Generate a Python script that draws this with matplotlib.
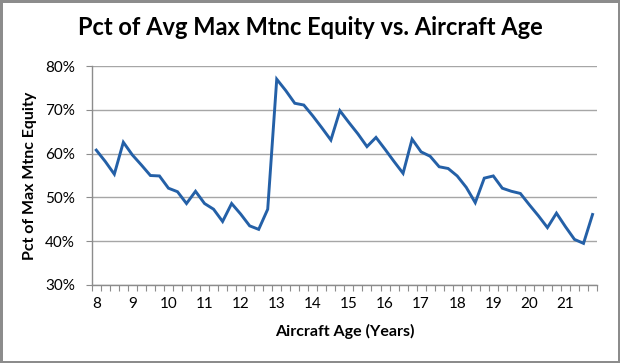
import numpy as np
import matplotlib.pyplot as plt
from matplotlib.ticker import FuncFormatter

# quarterly ages 8.00 .. 21.75
age_labels = ['8', '9', '10', '11', '12', '13', '14', '15', '16', '17', '18', '19', '20', '21']
pct_equity = [
    60.8, 58.2, 55.3, 62.6, 59.7, 57.4, 55.0, 54.9, 52.1, 51.3,
    48.6, 51.4, 48.6, 47.3, 44.5, 48.6, 46.2, 43.5, 42.7, 47.3,
    77.0, 74.4, 71.5, 71.1, 68.6, 65.9, 63.1, 69.8, 67.1, 64.5,
    61.6, 63.7, 61.0, 58.2, 55.5, 63.3, 60.4, 59.4, 57.0, 56.6,
    54.9, 52.3, 48.8, 54.4, 54.9, 52.1, 51.4, 50.9, 48.3, 45.8,
    43.1, 46.4, 43.3, 40.4, 39.5, 46.1,
]

plt.rcParams['font.family'] = ['Lato', 'DejaVu Sans']

fig = plt.figure(figsize=(6.2, 3.63), dpi=100, edgecolor='#8c8c8c', linewidth=2.5)
ax = fig.add_axes([0.148, 0.215, 0.815, 0.603])

x = np.arange(len(pct_equity))
ax.plot(x, pct_equity, color='#2460a7', linewidth=2.1, solid_joinstyle='miter')

ax.set_xlim(-0.5, len(pct_equity) - 0.5)
ax.set_ylim(30, 80)
ax.set_yticks(np.arange(30, 81, 10))
ax.yaxis.set_major_formatter(FuncFormatter(lambda v, p: f'{v:.0f}%'))
ax.grid(axis='y', color='#a6a6a6', linewidth=1.0)
ax.set_axisbelow(True)

# ticks between categories, labels every 4 quarters
ax.set_xticks(np.arange(-0.5, len(pct_equity), 1))
ax.set_xticklabels([])
ax.set_xticks(np.arange(0, len(pct_equity), 4), minor=True)
ax.set_xticklabels(age_labels, minor=True)
ax.tick_params(axis='x', which='major', length=4, color='#8c8c8c', width=0.8)
ax.tick_params(axis='x', which='minor', length=0, pad=9, labelsize=11)
ax.tick_params(axis='y', length=4, color='#8c8c8c', width=0.8, labelsize=11, pad=8)

for side in ['top', 'right']:
    ax.spines[side].set_visible(False)
for side in ['left', 'bottom']:
    ax.spines[side].set_color('#8c8c8c')
    ax.spines[side].set_linewidth(1.0)

ax.set_xlabel('Aircraft Age (Years)', fontsize=11.5, fontweight='bold', labelpad=9)
ax.set_ylabel('Pct of Max Mtnc Equity', fontsize=11.5, fontweight='bold', labelpad=6)
fig.suptitle('Pct of Avg Max Mtnc Equity vs. Aircraft Age', fontsize=17, fontweight='bold', y=0.955)

fig.savefig('out.png', dpi=100, edgecolor=fig.get_edgecolor())
